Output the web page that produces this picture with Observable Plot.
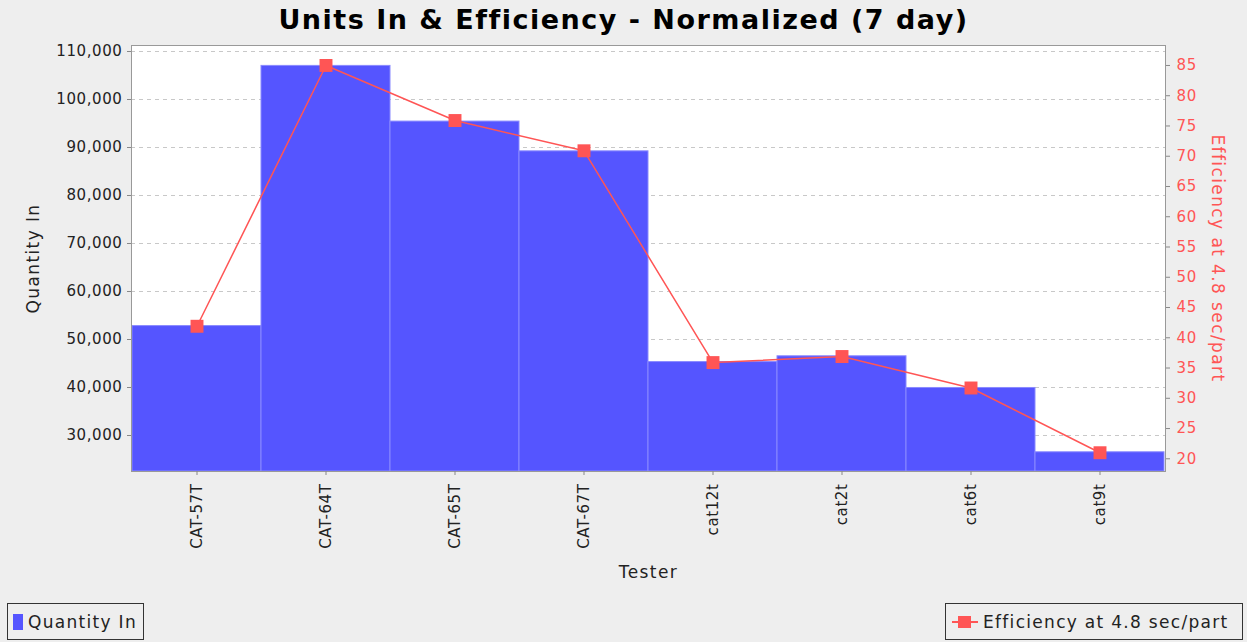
<!DOCTYPE html>
<html><head><meta charset="utf-8">
<script src="https://cdn.jsdelivr.net/npm/d3@7"></script>
<script src="https://cdn.jsdelivr.net/npm/@observablehq/plot@0.6"></script>
<style>
html,body{margin:0;padding:0;}
body{background:#eeeeee;font-family:"DejaVu Sans",sans-serif;width:1247px;height:642px;position:relative;overflow:hidden;}
#title{height:40px;line-height:40px;text-align:center;font-weight:bold;font-size:27px;letter-spacing:1.5px;color:#000;}
#chart{height:555px;}
#chart svg text{letter-spacing:0.6px;}
#chart svg g[aria-label="text"] text{letter-spacing:1.4px;}
.legend{position:absolute;top:603px;border:1.5px solid #333;box-sizing:border-box;height:37px;display:flex;align-items:center;font-size:17px;letter-spacing:1.3px;color:#222;white-space:nowrap;}
#leg1{left:7px;width:137px;}
#leg2{left:945px;width:298px;}
.sw1{display:inline-block;width:10px;height:16px;background:#5555ff;margin:0 5px 0 5px;}
.sw2{position:relative;display:inline-block;width:26px;height:16px;margin:0 5px 0 6px;}
.sw2 .ln{position:absolute;left:0;top:7px;width:26px;height:2px;background:#ff5555;}
.sw2 .sq{position:absolute;left:6px;top:2px;width:13px;height:12px;background:#ff5555;}
</style></head><body>
<div id="title">Units In &amp; Efficiency - Normalized (7 day)</div>
<div id="chart"></div>
<div class="legend" id="leg1"><span class="sw1"></span>Quantity In</div>
<div class="legend" id="leg2"><span class="sw2"><span class="ln"></span><span class="sq"></span></span>Efficiency at 4.8 sec/part</div>
<script>
const testers = ["CAT-57T","CAT-64T","CAT-65T","CAT-67T","cat12t","cat2t","cat6t","cat9t"];
const quantityIn = [52800, 107000, 95400, 89200, 45300, 46500, 39900, 26500];
const efficiency = [41.9, 85.0, 75.9, 70.9, 35.9, 36.9, 31.7, 21.0];
const qtyTicks = [30000, 40000, 50000, 60000, 70000, 80000, 90000, 100000, 110000];
const effTicks = [20, 25, 30, 35, 40, 45, 50, 55, 60, 65, 70, 75, 80, 85];
const qtyDomain = [22500, 111250];
const effDomain = [17.9, 88.3];

const toQ = e => qtyDomain[0] + (e - effDomain[0]) / (effDomain[1] - effDomain[0]) * (qtyDomain[1] - qtyDomain[0]);
const rows = testers.map((t, i) => ({tester: t, qty: quantityIn[i], eff: efficiency[i], effQ: toQ(efficiency[i])}));
const effTickRows = effTicks.map(e => ({e, q: toQ(e)}));
const red = "#ff5555";

const chart = Plot.plot({
  width: 1247, height: 555,
  marginTop: 5, marginBottom: 124, marginLeft: 131, marginRight: 82,
  style: {background: "transparent", fontFamily: "DejaVu Sans", fontSize: "15px", color: "#333"},
  x: {domain: testers, padding: 0, label: null},
  y: {domain: qtyDomain, label: null},
  marks: [
    Plot.frame({fill: "white", stroke: "none"}),
    Plot.gridY(qtyTicks, {stroke: "#c8c8c8", strokeOpacity: 1, strokeDasharray: "4,4"}),
    Plot.barY(rows, {x: "tester", y1: qtyDomain[0], y2: "qty", fill: "#5555ff", stroke: "#8a8aff", strokeWidth: 1}),
    Plot.line(rows, {x: "tester", y: "effQ", stroke: red, strokeWidth: 1.5}),
    Plot.dot(rows, {x: "tester", y: "effQ", symbol: "square", fill: red, stroke: "none", r: 7.3}),
    Plot.frame({stroke: "#999"}),
    Plot.axisY(qtyTicks, {anchor: "left", tickFormat: d3.format(","), tickSize: 4, tickPadding: 5, stroke: "#888", fill: "#222", label: null}),
    Plot.axisY(effTickRows.map(d => d.q), {anchor: "right", tickFormat: q => effTicks[effTickRows.findIndex(d => d.q === q)], tickSize: 4, tickPadding: 7, stroke: "#888", fill: red, label: null}),
    Plot.axisX({anchor: "bottom", tickRotate: -90, tickSize: 4, tickPadding: 8, stroke: "#888", fill: "#222", label: null}),
    Plot.text(["Quantity In"], {frameAnchor: "left", rotate: -90, dx: -98, textAnchor: "middle", lineAnchor: "middle", fontSize: 17, fill: "#222"}),
    Plot.text(["Tester"], {frameAnchor: "bottom", dy: 101, textAnchor: "middle", lineAnchor: "middle", fontSize: 17, fill: "#222"}),
    Plot.text(["Efficiency at 4.8 sec/part"], {frameAnchor: "right", rotate: 90, dx: 52, textAnchor: "middle", lineAnchor: "middle", fontSize: 17, fill: red})
  ]
});
document.getElementById("chart").appendChild(chart);
</script>
</body></html>
